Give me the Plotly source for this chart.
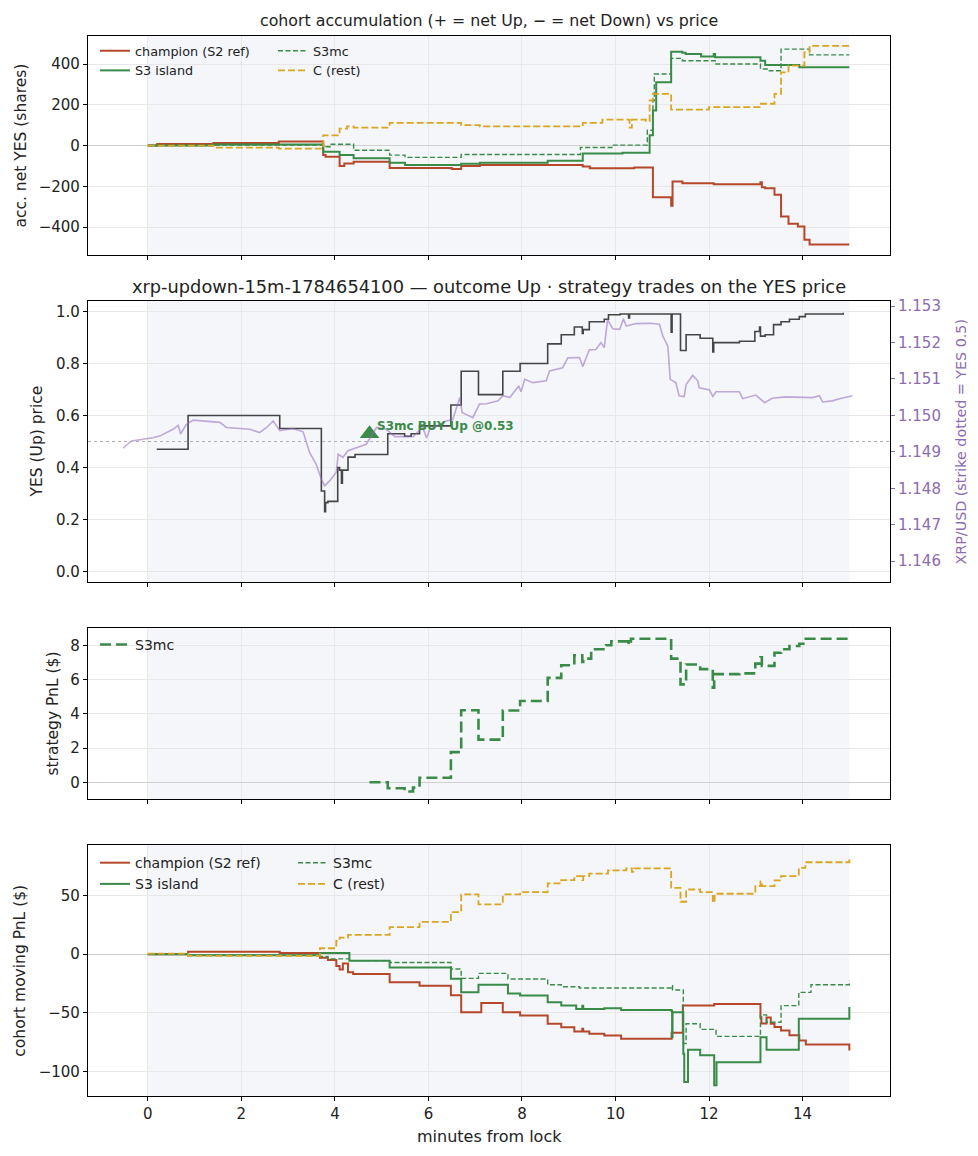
import plotly.graph_objects as go

# page body has an 8px margin, so the figure is 8px smaller and every pixel position is shifted
OFF = 8
W, H = 978 - OFF, 1156 - OFF
FONT = "DejaVu Sans"

# ---------------- data ----------------
window_start, window_end = 0, 15
strike_yes = 0.5

# panel 1: accumulated net YES shares per cohort (step changes, minutes from lock)
champ_acc_t = [0, 0.2, 1.4, 2.8, 3.75, 3.8, 4.1, 4.2, 4.4, 5.17, 6.5, 6.7, 7.1, 9.3, 9.45, 10.4,
               10.8, 11.19, 11.22, 11.43, 12.1, 13.1, 13.13, 13.2, 13.4, 13.54, 13.7, 13.9, 14.04, 14.15, 15.0]
champ_acc_v = [0, 8, 12, 20, -47, -55, -100, -88, -80, -110, -115, -100, -96, -103, -112, -108,
               -254, -296, -177, -185, -190, -180, -205, -210, -242, -348, -384, -397, -462, -486, -486]
island_acc_t = [0, 1.4, 3.75, 4.1, 4.4, 5.17, 5.5, 6.7, 7.1, 8.55, 9.3, 10.15, 10.73, 10.8, 10.87,
                11.19, 11.43, 11.5, 11.83, 12.1, 12.13, 13.1, 13.2, 13.93, 15.0]
island_acc_v = [0, 5, -31, -47, -63, -85, -96, -90, -85, -75, -39, -35, 50, 172, 311,
                460, 455, 449, 437, 449, 433, 416, 395, 384, 384]
s3mc_acc_t = [0, 1.4, 3.75, 3.9, 4.4, 5.17, 5.5, 6.7, 9.25, 9.94, 10.68, 10.8, 10.83, 11.19,
              11.43, 12.15, 13.1, 13.29, 13.54, 14.15, 15.0]
s3mc_acc_v = [0, 3, -6, 6, -23, -47, -58, -44, -10, 2, 75, 221, 351, 428,
              416, 400, 376, 367, 473, 445, 445]
rest_acc_t = [0, 1.4, 2.8, 3.75, 4.1, 4.26, 4.4, 5.17, 6.7, 7.1, 9.3, 9.72, 10.3, 10.35, 10.65,
              10.73, 10.8, 11.19, 12.0, 13.08, 13.4, 13.54, 13.7, 14.04, 14.15, 15.0]
rest_acc_v = [0, -10, -15, 50, 83, 94, 88, 111, 100, 94, 111, 127, 88, 127, 120,
              221, 254, 176, 189, 205, 254, 359, 392, 457, 489, 489]

# panel 2: YES (Up) price and XRP/USD
yes_t = [0.19, 0.86, 2.82, 3.71, 3.78, 3.80, 3.85, 4.06, 4.10, 4.14, 4.16, 4.28, 4.43, 5.13, 5.49,
         5.63, 5.81, 6.48, 6.70, 7.07, 7.59, 7.96, 8.55, 8.84, 9.12, 9.29, 9.31, 9.44, 9.76, 9.85,
         10.10, 10.28, 10.30, 11.19, 11.21, 11.39, 11.51, 11.81, 12.08, 12.10, 12.65, 12.98, 13.08,
         13.10, 13.20, 13.38, 13.54, 13.72, 13.93, 14.06, 14.87]
yes_p = [0.47, 0.60, 0.55, 0.31, 0.23, 0.265, 0.27, 0.40, 0.39, 0.34, 0.39, 0.44, 0.45, 0.53, 0.52,
         0.53, 0.56, 0.64, 0.77, 0.68, 0.77, 0.80, 0.875, 0.91, 0.94, 0.915, 0.93, 0.96, 0.97, 0.987,
         0.99, 0.975, 0.99, 0.92, 0.99, 0.85, 0.91, 0.897, 0.844, 0.88, 0.885, 0.923, 0.94,
         0.905, 0.91, 0.949, 0.96, 0.97, 0.98, 0.99, 0.995]
xrp_t = [-0.53, -0.35, 0.11, 0.26, 0.54, 0.65, 0.70, 0.82, 0.97, 1.54, 1.68, 2.18, 2.39, 2.54, 2.68,
         2.82, 3.10, 3.32, 3.46, 3.60, 3.71, 3.78, 3.89, 4.03, 4.07, 4.17, 4.28, 4.67, 4.89, 5.10,
         5.28, 5.67, 5.88, 5.96, 6.03, 6.38, 6.52, 6.67, 6.72, 6.95, 7.09, 7.24, 7.49, 7.59, 7.74,
         7.93, 7.98, 8.06, 8.23, 8.52, 8.59, 8.87, 8.98, 9.23, 9.30, 9.44, 9.58, 9.69, 9.76, 9.83,
         9.94, 10.09, 10.17, 10.23, 10.44, 10.73, 10.94, 11.01, 11.12, 11.17, 11.29, 11.36, 11.47,
         11.51, 11.65, 11.76, 11.79, 12.01, 12.08, 12.15, 12.65, 12.72, 13.00, 13.10, 13.19, 13.35,
         13.64, 14.21, 14.36, 14.43, 14.64, 14.79, 14.93, 15.07]
xrp_p = [1.14910, 1.14930, 1.14939, 1.14944, 1.14962, 1.14973, 1.14949, 1.14975, 1.14987, 1.14981,
         1.14967, 1.14962, 1.14953, 1.14967, 1.14985, 1.14958, 1.14964, 1.14955, 1.14898, 1.14866,
         1.14825, 1.14807, 1.14821, 1.14844, 1.14894, 1.14885, 1.14903, 1.14921, 1.14967, 1.14962,
         1.14942, 1.14942, 1.14967, 1.14938, 1.14962, 1.14985, 1.14989, 1.15049, 1.15008, 1.14994,
         1.15031, 1.15032, 1.15040, 1.15054, 1.15049, 1.15081, 1.15065, 1.15099, 1.15090, 1.15095,
         1.15122, 1.15131, 1.15158, 1.15159, 1.15134, 1.15180, 1.15181, 1.15200, 1.15186, 1.15263,
         1.15238, 1.15236, 1.15265, 1.15245, 1.15252, 1.15253, 1.15250, 1.15218, 1.15190, 1.15099,
         1.15090, 1.15054, 1.15052, 1.15085, 1.15110, 1.15095, 1.15076, 1.15070, 1.15052, 1.15065,
         1.15065, 1.15046, 1.15056, 1.15046, 1.15035, 1.15047, 1.15051, 1.15049, 1.15054, 1.15037,
         1.15040, 1.15046, 1.15049, 1.15054]
trade_t = [4.74]
trade_px = [0.53]
trade_label = ["S3mc BUY Up"]

# panel 3: strategy PnL
pnl_t = [4.74, 5.13, 5.49, 5.67, 5.81, 6.48, 6.70, 7.07, 7.59, 7.96, 8.55, 8.84, 9.12, 9.29, 9.31,
         9.48, 9.80, 9.91, 10.26, 10.28, 10.33, 11.19, 11.39, 11.51, 11.81, 12.08, 12.11, 12.65,
         12.99, 13.10, 13.13, 13.20, 13.40, 13.54, 13.72, 13.93, 14.07, 15.0]
pnl_v = [0.0, -0.35, -0.54, -0.31, 0.27, 1.76, 4.21, 2.49, 4.19, 4.75, 6.10, 6.84, 7.42, 7.03, 7.22,
         7.77, 8.0, 8.23, 8.0, 8.23, 8.38, 7.22, 5.72, 6.88, 6.61, 5.52, 6.32, 6.36,
         6.93, 7.3, 6.8, 6.8, 7.57, 7.77, 7.96, 8.09, 8.38, 8.48]

# panel 4: cohort moving PnL
champ_pnl_t = [0, 0.86, 2.82, 3.68, 3.85, 4.03, 4.10, 4.17, 4.28, 4.39, 5.17, 5.81, 6.48, 6.70, 7.13,
               7.59, 7.96, 8.55, 8.84, 9.12, 9.29, 9.31, 9.44, 9.76, 10.12, 11.20, 11.44, 12.11, 13.10,
               13.12, 13.23, 13.32, 13.40, 13.54, 13.72, 13.93, 14.07, 15.0]
champ_pnl_v = [0, 2, 1, -3, -5, -10, -13, -8, -15.5, -17, -24, -27, -35, -49.5, -41.5,
               -49.5, -52.3, -59.3, -62.2, -65.8, -63.4, -65.8, -67.8, -69.2, -72, -67, -43.8, -42.4, -53.7,
               -59, -54, -59.3, -62, -65, -69, -73.5, -77, -82]
island_pnl_t = [0, 0.86, 3.68, 4.31, 5.17, 6.48, 6.70, 7.07, 7.70, 7.96, 8.55, 8.84, 9.16, 9.29, 9.31,
                9.76, 10.12, 11.19, 11.21, 11.22, 11.45, 11.47, 11.55, 11.81, 12.11, 12.16, 13.10, 13.23,
                13.92, 15.0]
island_pnl_v = [0, -1, 1, -5.7, -11.3, -21, -32.5, -26, -33.4, -35.3, -41, -43.8, -46.6, -44, -46.6,
                -46, -47.5, -48, -70.7, -49.5, -84.7, -108.8, -81.4, -86, -111.6, -91.9, -70.7, -81.4,
                -55, -45]
s3mc_pnl_t = [0, 0.86, 3.68, 3.85, 4.31, 5.17, 6.48, 6.70, 7.07, 7.70, 8.55, 8.84, 9.23, 11.19, 11.22,
              11.45, 11.51, 11.81, 12.15, 13.10, 13.23, 13.54, 13.92, 14.18, 15.0]
s3mc_pnl_v = [0, -1, -2, -4, -5.5, -7.1, -12.7, -20.6, -16.4, -21.2, -26, -27.7, -28.8, -26.9, -30.5,
              -76, -59.3, -64, -70, -51.7, -58, -43.8, -32.5, -26, -22.6]
rest_pnl_t = [0, 0.86, 3.68, 4.03, 4.10, 4.28, 5.17, 5.81, 6.48, 6.70, 7.07, 7.59, 7.96, 8.55, 8.84,
              9.12, 9.29, 9.31, 9.44, 9.84, 10.23, 10.35, 10.40, 11.19, 11.39, 11.51, 11.81, 12.08,
              12.12, 12.99, 13.10, 13.13, 13.40, 13.54, 13.92, 14.06, 15.0]
rest_pnl_v = [0.5, -1.4, 5, 11.3, 14, 16.4, 23, 27.4, 35.8, 50.8, 42.4, 50.8, 52.8, 60.2, 63,
              66.4, 63, 66.4, 68.6, 71.2, 72.9, 70, 72.9, 56.4, 44.6, 55, 52.8, 44,
              51.4, 57.9, 62, 57.9, 62.7, 66.4, 73.4, 78.2, 80.5]

# ---------------- styling ----------------
CHAMP = "#b5482a"
GREEN = "#3a8b48"
GOLD = "#daa520"
PURPLE = "#8c6bb1"
SHADE = "#f4f6fa"
GRID = "#e8e8e8"
TICK = 15
LAB = 15.5


def fx(p):
    return (p - OFF) / W


def fy(p):
    return 1 - (p - OFF) / H


X_DOM = [fx(88), fx(890)]

fig = go.Figure()


def step(x, y, xa, ya, name, color, width, dash="solid", legend="legend", show=True):
    fig.add_trace(go.Scatter(
        x=x, y=y, xaxis=xa, yaxis=ya, mode="lines", name=name,
        line=dict(color=color, width=width, dash=dash, shape="hv"),
        legend=legend, showlegend=show, hoverinfo="skip"))


# panel 1
step(champ_acc_t, champ_acc_v, "x", "y", "champion (S2 ref)", CHAMP, 2.0, legend="legend")
step(island_acc_t, island_acc_v, "x", "y", "S3 island", GREEN, 2.0, legend="legend")
step(s3mc_acc_t, s3mc_acc_v, "x", "y", "S3mc", GREEN, 1.4, "5px,2.5px", legend="legend2")
step(rest_acc_t, rest_acc_v, "x", "y", "C (rest)", GOLD, 1.8, "7px,3px", legend="legend2")

# panel 2
fig.add_trace(go.Scatter(x=xrp_t, y=xrp_p, xaxis="x2", yaxis="y5", mode="lines",
                         line=dict(color="rgba(148,103,189,0.55)", width=1.6),
                         showlegend=False, hoverinfo="skip"))
step(yes_t, yes_p, "x2", "y2", "YES", "#454545", 1.6, show=False)
fig.add_trace(go.Scatter(x=trade_t, y=trade_px, xaxis="x2", yaxis="y2", mode="markers",
                         marker=dict(symbol="triangle-up", size=17, color=GREEN),
                         showlegend=False, hoverinfo="skip"))

# panel 3
step(pnl_t, pnl_v, "x3", "y3", "S3mc", GREEN, 2.6, "11px,5px", legend="legend3")

# panel 4
step(champ_pnl_t, champ_pnl_v, "x4", "y4", "champion (S2 ref)", CHAMP, 2.0, legend="legend4")
step(island_pnl_t, island_pnl_v, "x4", "y4", "S3 island", GREEN, 2.0, legend="legend4")
step(s3mc_pnl_t, s3mc_pnl_v, "x4", "y4", "S3mc", GREEN, 1.4, "5px,2.5px", legend="legend5")
step(rest_pnl_t, rest_pnl_v, "x4", "y4", "C (rest)", GOLD, 1.8, "7px,3px", legend="legend5")

axis_common = dict(showline=True, mirror=True, linecolor="black", linewidth=1.2,
                   ticks="outside", ticklen=4, tickwidth=1, tickcolor="black",
                   showgrid=True, gridcolor=GRID, gridwidth=1,
                   tickfont=dict(family=FONT, size=TICK, color="#222"))

layout = dict(
    width=W, height=H, margin=dict(l=0, r=0, t=0, b=0),
    paper_bgcolor="white", plot_bgcolor="white",
    font=dict(family=FONT, color="#222"),
)
for i in range(1, 5):
    xa = dict(axis_common, domain=X_DOM, range=[-1.28, 15.87], tick0=0, dtick=2,
              zeroline=False, anchor="y" if i == 1 else f"y{i}",
              showticklabels=(i == 4))
    if i > 1:
        xa["matches"] = "x"
    layout["xaxis" if i == 1 else f"xaxis{i}"] = xa

zl = dict(zeroline=True, zerolinecolor="#d0d0d0", zerolinewidth=1.2)
layout["yaxis"] = dict(axis_common, **zl, domain=[fy(252), fy(32)], range=[-538, 538], dtick=200,
                       anchor="x")
layout["yaxis2"] = dict(axis_common, domain=[fy(580), fy(298)], range=[-0.04, 1.04], dtick=0.2,
                        tickformat=".1f", zeroline=False, anchor="x2")
layout["yaxis3"] = dict(axis_common, **zl, domain=[fy(798), fy(626)], range=[-0.99, 9.02], dtick=2,
                        anchor="x3")
layout["yaxis4"] = dict(axis_common, **zl, domain=[fy(1096), fy(844)], range=[-120.9, 92.8], dtick=50,
                        anchor="x4")
layout["yaxis5"] = dict(overlaying="y2", side="right", anchor="x2",
                        range=[1.14543, 1.15314], dtick=0.001, tickformat=".3f",
                        showgrid=False, zeroline=False, showline=False,
                        ticks="outside", ticklen=4, tickcolor=PURPLE,
                        tickfont=dict(family=FONT, size=TICK, color=PURPLE))

leg = dict(bgcolor="rgba(0,0,0,0)", borderwidth=0, xanchor="left", yanchor="top",
           itemwidth=30, tracegroupgap=0)
f1 = dict(family=FONT, size=12.8, color="#222")
f2 = dict(family=FONT, size=14, color="#222")
layout["legend"] = dict(leg, x=fx(95), y=fy(32), font=f1)
layout["legend2"] = dict(leg, x=fx(273), y=fy(32), font=f1)
layout["legend3"] = dict(leg, x=fx(95), y=fy(627), font=f2)
layout["legend4"] = dict(leg, x=fx(95), y=fy(846), font=f2)
layout["legend5"] = dict(leg, x=fx(293), y=fy(846), font=f2)

fig.update_layout(**layout)

# lock window shading
for xr, yr in [("x", "y"), ("x2", "y2"), ("x3", "y3"), ("x4", "y4")]:
    fig.add_shape(type="rect", xref=xr, yref=f"{yr} domain", x0=window_start, x1=window_end,
                  y0=0, y1=1, fillcolor=SHADE, line=dict(width=0), layer="below")

# strike line (YES 0.5)
fig.add_shape(type="line", xref="x2 domain", yref="y2", x0=0, x1=1, y0=strike_yes, y1=strike_yes,
              line=dict(color="#b0b0b0", width=1, dash="dot"))

# trade label
fig.add_annotation(x=trade_t[0], y=trade_px[0], xref="x2", yref="y2",
                   text=f"{trade_label[0]} @{trade_px[0]:.2f}", showarrow=False,
                   xanchor="left", yanchor="middle", xshift=5, yshift=8,
                   font=dict(family=FONT, size=12, color=GREEN, weight="bold"))


# titles and axis labels
def label(text, x, y, size=LAB, angle=0, color="#222"):
    fig.add_annotation(text=text, x=fx(x), y=fy(y), xref="paper", yref="paper",
                       showarrow=False, textangle=angle, xanchor="center", yanchor="middle",
                       font=dict(family=FONT, size=size, color=color))


label("cohort accumulation (+ = net Up, \u2212 = net Down) vs price", 489, 17, size=15.8)
label("xrp-updown-15m-1784654100 \u2014 outcome Up \u00b7 strategy trades on the YES price", 489, 283, size=17.8)
label("acc. net YES (shares)", 21, 142, angle=-90)
label("YES (Up) price", 37, 439, angle=-90)
label("strategy PnL ($)", 53, 712, angle=-90)
label("cohort moving PnL ($)", 20, 970, angle=-90)
label("XRP/USD (strike dotted = YES 0.5)", 961, 439, size=14.3, angle=-90, color=PURPLE)
label("minutes from lock", 489, 1136, size=16)

fig.write_html("out.html")
